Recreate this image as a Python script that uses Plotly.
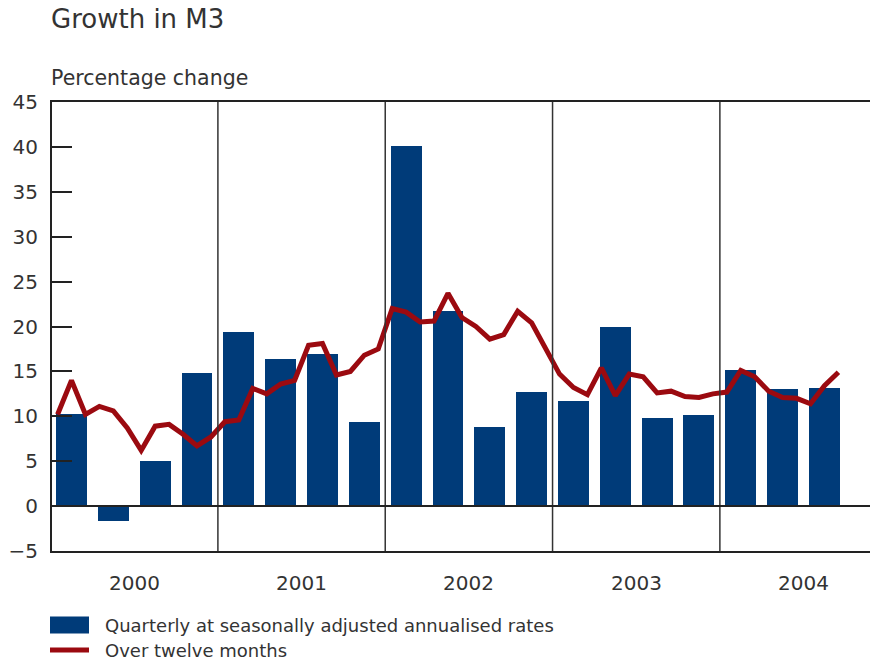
import plotly.graph_objects as go

# ---- data ----
years = ["2000", "2001", "2002", "2003", "2004"]
quarterly = [10.3, -1.7, 5.0, 14.8,
             19.4, 16.4, 16.9, 9.4,
             40.1, 21.7, 8.8, 12.7,
             11.7, 19.9, 9.8, 10.1,
             15.2, 13.0, 13.1]
twelve_month = [10.2, 14.0, 10.2, 11.1, 10.6, 8.7, 6.2, 8.9, 9.1, 8.0, 6.7, 7.7,
                9.4, 9.6, 13.1, 12.5, 13.6, 14.0, 17.9, 18.1, 14.6, 15.0, 16.8, 17.5,
                22.0, 21.6, 20.5, 20.6, 23.7, 21.0, 20.0, 18.6, 19.1, 21.7, 20.4, 17.6,
                14.7, 13.2, 12.4, 15.4, 12.3, 14.7, 14.4, 12.6, 12.8, 12.2, 12.1, 12.5,
                12.7, 15.1, 14.4, 12.8, 12.1, 12.0, 11.4, 13.4, 14.9]
y_ticks = [-5, 0, 5, 10, 15, 20, 25, 30, 35, 40, 45]

BLUE = "#003b79"
RED = "#9b0a10"
TXT = "#333333"
FONT = "DejaVu Sans"

q_x = list(range(len(quarterly)))               # quarter index
m_x = [m / 3 - 1 / 3 for m in range(len(twelve_month))]  # month index in quarter units

fig = go.Figure()
fig.add_trace(go.Bar(x=q_x, y=quarterly, width=0.74, marker_color=BLUE,
                     marker_line_width=0, name="Quarterly at seasonally adjusted annualised rates"))
fig.add_trace(go.Scatter(x=m_x, y=twelve_month, mode="lines",
                         line=dict(color=RED, width=5), name="Over twelve months"))

OFF = 8  # page body margin
W, H = 878 - OFF, 662 - OFF
L, R, T, B = 52 - OFF, 0, 102 - OFF, 111
plot_w = W - L - R
plot_h = H - T - B

def px_x(p):
    return (p - OFF - L) / plot_w

def px_y(p):
    return (H - B - (p - OFF)) / plot_h

shapes = []
# year separators
for k in range(1, len(years)):
    xs = 4 * k - 0.5
    shapes.append(dict(type="line", xref="x", yref="y", x0=xs, x1=xs, y0=-5, y1=45,
                       line=dict(color="#333333", width=1.5), layer="above"))
# zero line
shapes.append(dict(type="line", xref="paper", yref="y", x0=0, x1=1, y0=0, y1=0,
                   line=dict(color="#222222", width=2), layer="above"))
# legend symbols
shapes.append(dict(type="rect", xref="paper", yref="paper",
                   x0=px_x(50), x1=px_x(89), y0=px_y(633.5), y1=px_y(616.5),
                   fillcolor=BLUE, line=dict(width=0)))
shapes.append(dict(type="line", xref="paper", yref="paper",
                   x0=px_x(50), x1=px_x(89), y0=px_y(650), y1=px_y(650),
                   line=dict(color=RED, width=5)))

annotations = []
annotations.append(dict(text="Growth in M3", xref="paper", yref="paper",
                        x=px_x(49), y=px_y(19), xanchor="left", yanchor="middle",
                        showarrow=False, font=dict(family=FONT, size=26, color=TXT)))
annotations.append(dict(text="Percentage change", xref="paper", yref="paper",
                        x=px_x(49), y=px_y(78), xanchor="left", yanchor="middle",
                        showarrow=False, font=dict(family=FONT, size=20.5, color=TXT)))
for k, yr in enumerate(years):
    annotations.append(dict(text=yr, xref="x", yref="paper", x=4 * k + 1.5, y=px_y(583),
                            xanchor="center", yanchor="middle", showarrow=False,
                            font=dict(family=FONT, size=20, color=TXT)))
annotations.append(dict(text="Quarterly at seasonally adjusted annualised rates", xref="paper",
                        yref="paper", x=px_x(103), y=px_y(625), xanchor="left", yanchor="middle",
                        showarrow=False, font=dict(family=FONT, size=18, color=TXT)))
annotations.append(dict(text="Over twelve months", xref="paper",
                        yref="paper", x=px_x(103), y=px_y(650), xanchor="left", yanchor="middle",
                        showarrow=False, font=dict(family=FONT, size=18, color=TXT)))

fig.update_layout(
    width=W, height=H,
    margin=dict(l=L, r=R, t=T, b=B, pad=0),
    paper_bgcolor="white", plot_bgcolor="white",
    showlegend=False,
    shapes=shapes, annotations=annotations,
    font=dict(family=FONT, color=TXT),
    bargap=0,
)
fig.update_xaxes(range=[-0.466, 19.28], showgrid=False, zeroline=False,
                 showticklabels=False, ticks="",
                 showline=True, linecolor="#222222", linewidth=2, mirror=True)
fig.update_yaxes(range=[-5, 45], tickvals=y_ticks, showgrid=False, zeroline=False,
                 ticks="inside", ticklen=20, tickwidth=2, tickcolor="#222222",
                 showline=True, linecolor="#222222", linewidth=2,
                 tickfont=dict(family=FONT, size=20, color=TXT), ticklabelstandoff=8)

fig.write_html("out.html")
